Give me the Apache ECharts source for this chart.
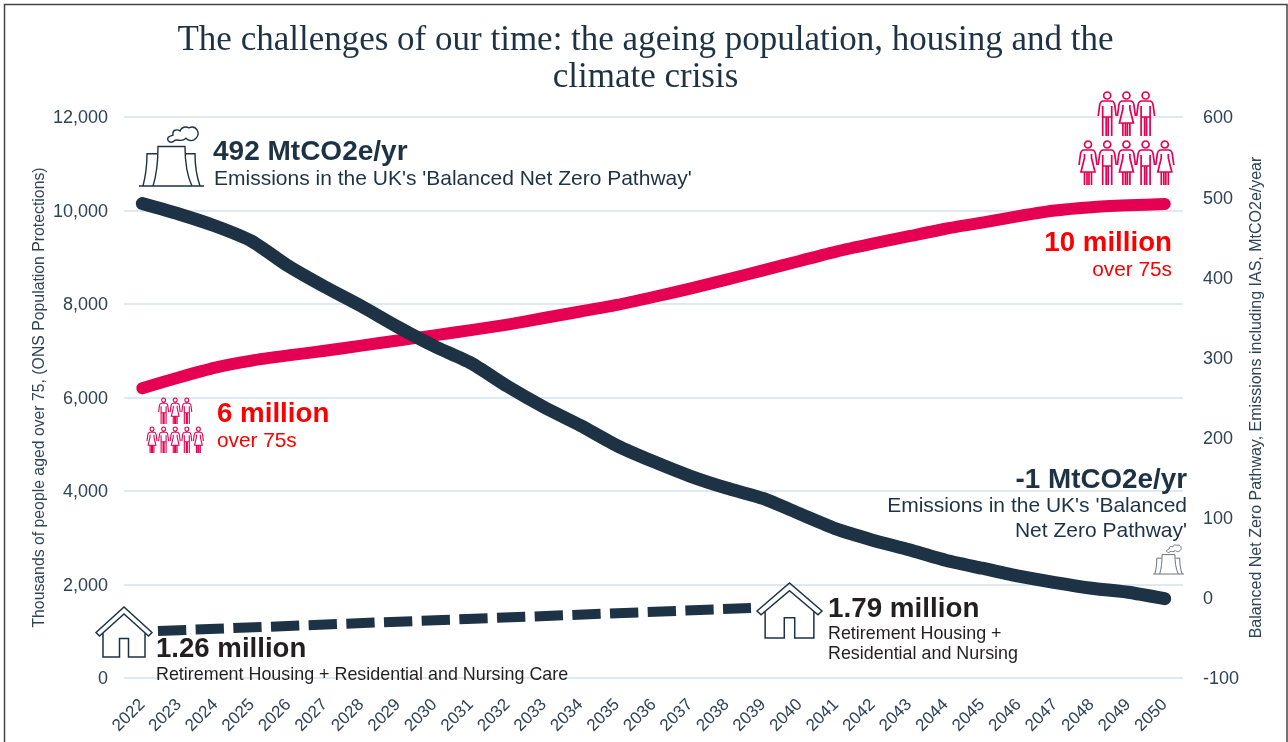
<!DOCTYPE html>
<html><head><meta charset="utf-8">
<style>html,body{margin:0;padding:0;background:#fff}#c{width:1288px;height:742px}</style>
<script src="https://cdn.jsdelivr.net/npm/echarts@6/dist/echarts.min.js"></script></head>
<body><div id="c"></div>
<script>
const years = ['2022','2023','2024','2025','2026','2027','2028','2029','2030','2031','2032','2033','2034','2035','2036','2037','2038','2039','2040','2041','2042','2043','2044','2045','2046','2047','2048','2049','2050'];
const over75s = [6200,6430,6640,6790,6900,7000,7110,7220,7330,7440,7560,7700,7840,7980,8150,8330,8520,8720,8920,9120,9290,9450,9610,9740,9880,10000,10070,10110,10140];
const emissions = [492,479,464,445,414,388,364,338,314,293,264,238,215,190,170,152,137,124,105,86,72,60,47,37,27,19,12,7,-1];
const housingYears = [2022.43,2038.67];
const housingValues = [1005,1497];
const title = 'The challenges of our time: the ageing population, housing and the\nclimate crisis';
const leftAxisName = 'Thousands of people aged over 75, (ONS Population Protections)';
const rightAxisName = 'Balanced Net Zero Pathway, Emissions including IAS, MtCO2e/year';

const NAVY='#1e3245', PINK='#e50051', RED='#fb0000', AXIS='#2f4256', GRID='#d5e2ee', BLK='#231f20';
const SANS='"Liberation Sans",Arial,sans-serif';

const HOUSE='M0 29 L28 0 L56 29 L52.5 33 L28 8 L3.5 33 Z M7 29 V57 H23.5 V36 H32.5 V57 H49 V29';
const PLANT='M0 59 H65 M4 59 C7 48 8 38 8 28 H18 M14 59 C18 47 19 33 19 21 H46 C46 33 47 47 53 59 M47 28 H56 C56 38 57 48 61 59 M29 15 C27 12 32 11 34 10 C33 5 38 4 41 6 C44 0 50 3 50 3 C57 0 62 8 57 13 C53 17 49 15 47 13 C43 17 39 14 36 15 C34 17 31 18 29 15 Z';
const PERSON_M='M9 0 a3.5 3.5 0 1 0 .01 0 Z M5 9 H13 C15 9 16 10 16.5 13 L18 24 M0 24 L1.5 13 C2 10 3 9 5 9 M4.5 14 V25 M13.5 14 V25 M4.5 25 V44 M8 25 V44 M10 25 V44 M13.5 25 V44 M4.5 25 H13.5';
const PERSON_F='M9 0 a3.5 3.5 0 1 0 .01 0 Z M5 9 H13 C15 9 16 10 16.5 13 L18 24 M0 24 L1.5 13 C2 10 3 9 5 9 M5.5 13 V17 L2 31 H16 L12.5 17 V13 M5.5 31 V44 M8 31 V44 M10 31 V44 M12.5 31 V44';

function icon(d,x,y,w,h,col,lw){return {type:'path',shape:{pathData:d,x:x,y:y,width:w,height:h,layout:'cover'},style:{fill:'none',stroke:col,lineWidth:lw}};}
function people(x,y,w,h,stepX,stepY,lw){
  const out=[];
  ['M','F','M'].forEach((t,i)=>out.push(icon(t==='M'?PERSON_M:PERSON_F,x+(i+1)*stepX,y,w,h,PINK,lw)));
  ['F','M','F','M','F'].forEach((t,i)=>out.push(icon(t==='M'?PERSON_M:PERSON_F,x+i*stepX,y+stepY,w,h,PINK,lw)));
  return out;
}
const iconElements=[
  icon(PLANT,139,127,65,59,NAVY,1.4),
  icon(PLANT,1153,545,31,29,'#6b7480',1),
  icon(HOUSE,96,607,56,50,NAVY,1.5),
  icon(HOUSE,757,583,65,55,NAVY,1.5),
  ...people(1079,92,18,44,19.2,49,1.7),
  ...people(147,398,10,26,11.6,29,1.1)
];
function txt(x,y,s,size,col,bold,align){return {type:'text',z:30,x:x,y:y,style:{text:s,font:(bold?'bold ':'')+size+'px '+SANS,fill:col,textAlign:align||'left',textVerticalAlign:'middle'}};}

const chart=echarts.init(document.getElementById('c'),null,{renderer:'canvas'});
chart.setOption({
  animation:false,backgroundColor:'#fff',
  title:{text:title,left:640.5,top:17,textAlign:'center',textStyle:{fontFamily:'"Liberation Serif",serif',fontWeight:'normal',fontSize:35,color:NAVY,lineHeight:37}},
  grid:{left:124,right:105,top:117,bottom:64},
  xAxis:[
    {type:'category',data:years,boundaryGap:true,axisTick:{show:false},axisLine:{show:false},
     axisLabel:{interval:0,rotate:45,fontFamily:SANS,fontSize:17,color:AXIS,margin:24}},
    {type:'value',min:2021.5,max:2050.5,show:false}
  ],
  yAxis:[
    {type:'value',min:0,max:12000,interval:2000,axisLine:{show:false},axisTick:{show:false},splitLine:{lineStyle:{color:GRID,width:1.5}},
     axisLabel:{fontFamily:SANS,fontSize:18,color:AXIS,margin:16,verticalAlign:'top',lineHeight:3,formatter:v=>v.toLocaleString('en-GB')},
     name:leftAxisName,nameLocation:'middle',nameRotate:90,nameGap:76,nameMoveOverlap:false,nameTextStyle:{fontFamily:SANS,fontSize:15.8,color:AXIS}},
    {type:'value',min:-100,max:600,interval:100,position:'right',axisLine:{show:false},axisTick:{show:false},splitLine:{show:false},
     axisLabel:{fontFamily:SANS,fontSize:18,color:AXIS,margin:20,verticalAlign:'top',lineHeight:3},
     name:rightAxisName,nameLocation:'middle',nameRotate:90,nameGap:66,nameMoveOverlap:false,nameTextStyle:{fontFamily:SANS,fontSize:16,color:AXIS}}
  ],
  series:[
    {type:'line',name:'Over 75s',data:over75s,yAxisIndex:0,xAxisIndex:0,symbol:'none',smooth:0.2,lineStyle:{color:PINK,width:12,cap:'round',join:'round'},z:3},
    {type:'line',name:'Emissions',data:emissions,yAxisIndex:1,xAxisIndex:0,symbol:'none',smooth:0.2,lineStyle:{color:NAVY,width:13,cap:'round',join:'round'},z:4},
    {type:'line',name:'Housing',data:housingYears.map((y,i)=>[y,housingValues[i]]),yAxisIndex:0,xAxisIndex:1,symbol:'none',lineStyle:{color:NAVY,width:10,type:[28.3,9.4],cap:'butt'},z:4},
    {type:'custom',name:'Icons',coordinateSystem:'none',data:[0],silent:true,z:6,
     renderItem:()=>({type:'group',children:iconElements})}
  ],
  graphic:[
    {type:'rect',z:40,shape:{x:4.5,y:4.5,width:1282.5,height:760},style:{fill:'none',stroke:'#444',lineWidth:1.5}},
    txt(213,152,'492 MtCO2e/yr',28,NAVY,true),
    txt(214,179,"Emissions in the UK's 'Balanced Net Zero Pathway'",21,NAVY,false),
    txt(1172,243,'10 million',27.7,RED,true,'right'),
    txt(1172,270,'over 75s',20.8,RED,false,'right'),
    txt(217,414,'6 million',27.7,RED,true),
    txt(217,441,'over 75s',20.8,RED,false),
    txt(1187,480,'-1 MtCO2e/yr',27.8,NAVY,true,'right'),
    txt(1187,506,"Emissions in the UK's 'Balanced",21,NAVY,false,'right'),
    txt(1187,531,"Net Zero Pathway'",21,NAVY,false,'right'),
    txt(156,649,'1.26 million',27.6,BLK,true),
    txt(156,675,'Retirement Housing + Residential and Nursing Care',17.9,BLK,false),
    txt(828,609,'1.79 million',27.8,BLK,true),
    txt(828,634,'Retirement Housing +',17.9,BLK,false),
    txt(828,654,'Residential and Nursing',17.9,BLK,false)
  ]
});
</script></body></html>
